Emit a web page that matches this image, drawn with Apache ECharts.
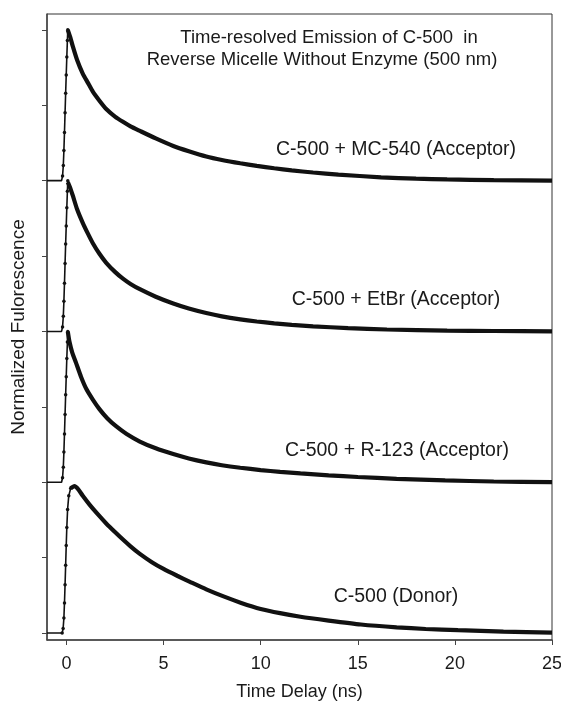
<!DOCTYPE html>
<html lang="en">
<head>
  <meta charset="UTF-8">
  <title>Time-resolved Emission of C-500</title>
  <script src="https://cdn.jsdelivr.net/npm/echarts@6/dist/echarts.min.js"></script>
  <style>
    html, body { margin: 0; padding: 0; background: #fff; }
    #main { width: 561px; height: 702px; }
  </style>
</head>
<body>
  <div id="main"></div>
  <script type="text/javascript">
    // x ticks and y ticks (y ticks carry no labels in the original)
    var xTicks = [0, 5, 10, 15, 20, 25];
    var yTicks = [0, 0.5, 1, 1.5, 2, 2.5, 3, 3.5, 4];

    // panel labels, bottom to top
    var names = ['C-500 (Donor)', 'C-500 + R-123 (Acceptor)', 'C-500 + EtBr (Acceptor)', 'C-500 + MC-540 (Acceptor)'];
    var offsets = [0, 1, 2, 3];

    // rising edge (baseline + instrument rise)
    var riseT_donor = [-1, -0.22, -0.17, -0.13, -0.1, -0.07, -0.04, -0.01, 0.02, 0.06, 0.12, 0.22];
    var riseN_donor = [0, 0, 0.03, 0.1, 0.2, 0.32, 0.45, 0.58, 0.7, 0.82, 0.91, 0.96];
    var riseT_acc = [-1, -0.25, -0.2, -0.16, -0.13, -0.1, -0.07, -0.04, -0.01, 0.02, 0.05, 0.07];
    var riseN_acc = [0, 0, 0.03, 0.1, 0.2, 0.32, 0.45, 0.58, 0.7, 0.82, 0.93, 1.0];

    // decays
    var decT_donor = [0.22, 0.41, 0.6, 0.84, 1.2, 1.6, 2.05, 2.5, 2.91, 3.3, 3.78, 4.4, 5.0, 5.7, 6.36, 7.2, 8.09, 9.0, 10.0, 11.0, 12.05, 13.5, 15.16, 17.0, 18.5, 20.16, 22.5, 25];
    var decN_donor = [0.96, 0.975, 0.955, 0.91, 0.85, 0.79, 0.727, 0.67, 0.62, 0.575, 0.525, 0.47, 0.425, 0.38, 0.34, 0.29, 0.243, 0.2, 0.16, 0.132, 0.108, 0.083, 0.057, 0.038, 0.027, 0.019, 0.01, 0.003];

    var decT_r123 = [0.07, 0.16, 0.3, 0.5, 0.75, 1.02, 1.35, 1.7, 2.1, 2.57, 3.1, 3.78, 4.6, 5.5, 6.3, 7.2, 8.0, 8.95, 10.0, 11.0, 12.05, 13.5, 15.0, 17.0, 19.5, 22, 25];
    var decN_r123 = [1.0, 0.93, 0.86, 0.79, 0.7, 0.62, 0.55, 0.485, 0.425, 0.37, 0.32, 0.27, 0.225, 0.187, 0.158, 0.132, 0.113, 0.096, 0.081, 0.069, 0.059, 0.046, 0.035, 0.023, 0.012, 0.005, 0.001];

    var decT_etbr = [0.07, 0.2, 0.33, 0.55, 0.84, 1.1, 1.36, 1.7, 2.05, 2.5, 2.91, 3.3, 3.78, 4.6, 5.5, 6.3, 7.2, 8.0, 8.95, 9.8, 10.7, 11.6, 12.7, 14.5, 16.5, 19.6, 22, 25];
    var decN_etbr = [0.99, 0.95, 0.9, 0.81, 0.72, 0.65, 0.585, 0.515, 0.455, 0.395, 0.35, 0.315, 0.28, 0.23, 0.185, 0.152, 0.122, 0.1, 0.08, 0.066, 0.054, 0.044, 0.034, 0.022, 0.013, 0.006, 0.003, 0];

    var decT_mc540 = [0.07, 0.2, 0.33, 0.55, 0.84, 1.1, 1.36, 1.7, 2.05, 2.5, 2.91, 3.3, 3.78, 4.6, 5.5, 6.3, 7.2, 8.0, 8.95, 9.8, 10.7, 11.6, 12.7, 14.0, 16.2, 18.0, 19.6, 22.0, 25];
    var decN_mc540 = [1.0, 0.95, 0.89, 0.8, 0.71, 0.65, 0.59, 0.53, 0.475, 0.425, 0.39, 0.36, 0.33, 0.28, 0.23, 0.195, 0.16, 0.137, 0.115, 0.098, 0.082, 0.068, 0.054, 0.04, 0.022, 0.013, 0.008, 0.003, 0];

    var rises = [[riseT_donor, riseN_donor], [riseT_acc, riseN_acc], [riseT_acc, riseN_acc], [riseT_acc, riseN_acc]];
    var decays = [[decT_donor, decN_donor], [decT_r123, decN_r123], [decT_etbr, decN_etbr], [decT_mc540, decN_mc540]];

    function pairs(t, n, off) {
      return t.map(function (v, i) { return [v, n[i] + off]; });
    }

    var font = '"Liberation Sans", Arial, sans-serif';
    var ink = '#1a1a1a';

    var series = [];
    for (var i = 0; i < 4; i++) {
      // thin rising edge with dots
      series.push({
        name: names[i] + ' rise',
        type: 'line',
        data: pairs(rises[i][0], rises[i][1], offsets[i]),
        symbol: 'circle',
        symbolSize: function (val) { return val[0] < -0.22 ? 0 : 3.5; },
        showSymbol: true,
        itemStyle: { color: '#111' },
        lineStyle: { color: '#111', width: 1.6 },
        silent: true,
        z: 3
      });
      // thick decay band
      series.push({
        name: names[i],
        type: 'line',
        data: pairs(decays[i][0], decays[i][1], offsets[i]),
        symbol: 'none',
        smooth: 0.2,
        lineStyle: { color: '#111', width: 4.2 },
        silent: true,
        z: 2
      });
    }

    var myChart = echarts.init(document.getElementById('main'), null, { renderer: 'canvas' });
    var option = {
      backgroundColor: '#fff',
      animation: false,
      grid: {
        left: 47, right: 9, top: 14, bottom: 62,
        outerBoundsMode: 'none',
        show: true, borderColor: '#333', borderWidth: 1
      },
      xAxis: {
        type: 'value',
        min: -1, max: 25,
        name: 'Time Delay (ns)',
        nameLocation: 'middle',
        nameGap: 43,
        nameTextStyle: { fontFamily: font, fontSize: 18, color: ink },
        axisLine: { onZero: false, lineStyle: { color: '#444', width: 1.5 } },
        axisTick: { show: true, length: 5, inside: false, customValues: xTicks, lineStyle: { color: '#444' } },
        axisLabel: { customValues: xTicks, margin: 15, fontFamily: font, fontSize: 18, color: ink },
        splitLine: { show: false }
      },
      yAxis: {
        type: 'value',
        min: -0.046, max: 4.105,
        name: 'Normalized Fulorescence',
        nameLocation: 'middle',
        nameGap: 19,
        nameTextStyle: { fontFamily: font, fontSize: 19, color: ink },
        axisLine: { onZero: false, lineStyle: { color: '#444', width: 1.5 } },
        axisTick: { show: true, length: 5, inside: false, customValues: yTicks, lineStyle: { color: '#444' } },
        axisLabel: { show: false },
        splitLine: { show: false }
      },
      graphic: [
        { type: 'text', x: 329, y: 38, style: { text: 'Time-resolved Emission of C-500  in', align: 'center', verticalAlign: 'middle', fontFamily: font, fontSize: 18.5, fill: ink } },
        { type: 'text', x: 322, y: 60, style: { text: 'Reverse Micelle Without Enzyme (500 nm)', align: 'center', verticalAlign: 'middle', fontFamily: font, fontSize: 18.5, fill: ink } },
        { type: 'text', x: 396, y: 150, style: { text: names[3], align: 'center', verticalAlign: 'middle', fontFamily: font, fontSize: 19.5, fill: ink } },
        { type: 'text', x: 396, y: 300, style: { text: names[2], align: 'center', verticalAlign: 'middle', fontFamily: font, fontSize: 19.5, fill: ink } },
        { type: 'text', x: 397, y: 451, style: { text: names[1], align: 'center', verticalAlign: 'middle', fontFamily: font, fontSize: 19.5, fill: ink } },
        { type: 'text', x: 396, y: 597, style: { text: names[0], align: 'center', verticalAlign: 'middle', fontFamily: font, fontSize: 19.5, fill: ink } }
      ],
      series: series
    };
    myChart.setOption(option);
  </script>
</body>
</html>
